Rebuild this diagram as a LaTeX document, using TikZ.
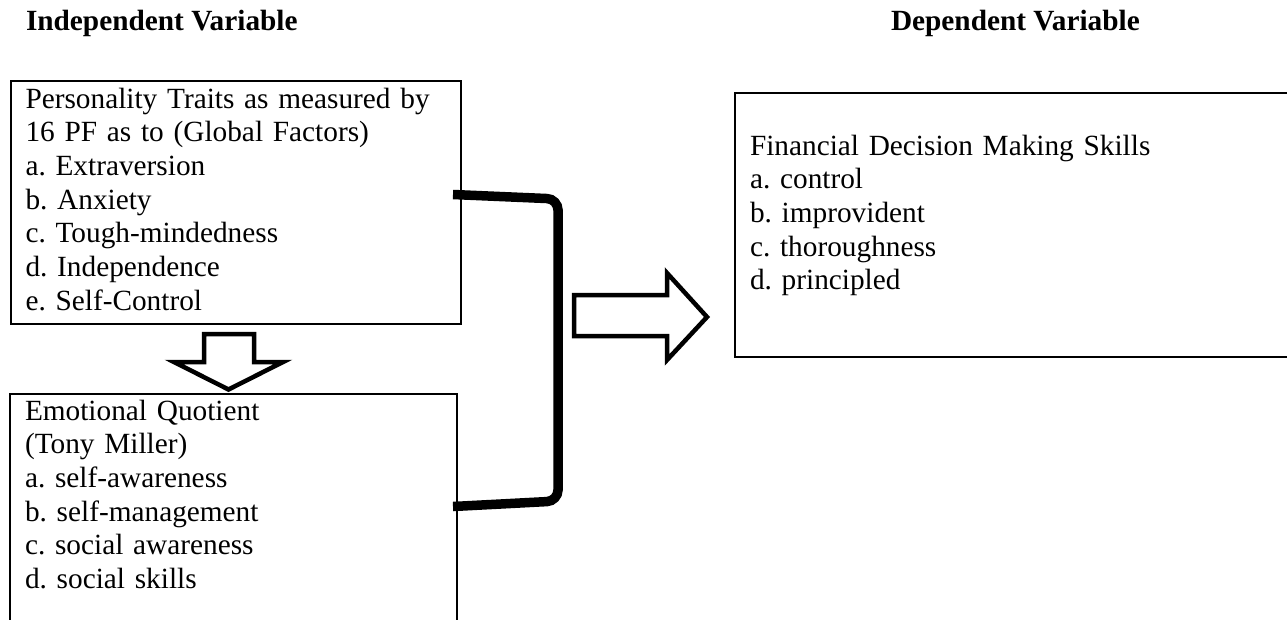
\documentclass[tikz,border=0pt]{standalone}
\usepackage{fontspec}
\setmainfont{Liberation Serif}
\frenchspacing
\begin{document}
\begin{tikzpicture}[x=1pt,y=-1pt,
  body/.style={font=\fontsize{29.3}{33.7}\selectfont\frenchspacing, inner sep=0pt, outer sep=0pt, anchor=base west, text width=#1, align=left},
  ttl/.style={font=\fontsize{29.3}{33.7}\selectfont\bfseries, inner sep=0pt, outer sep=0pt, anchor=base west},
  box/.style={draw=black, line width=2.2pt, inner sep=0pt, outer sep=0pt, anchor=north west},
  blockarrow/.style={draw=black, line width=4.5pt, line join=miter, fill=white},
  brace/.style={line width=9.5pt, rounded corners=11pt, line cap=butt}]
\useasboundingbox (0,0) rectangle (1287,619);
\clip (0,0) rectangle (1287,619);
\fill[white] (0,0) rectangle (1287,619);
% titles
\node[ttl] (iv) at (26,30) {Independent Variable};
\node[ttl] (dv) at (891,30) {Dependent Variable};
% boxes
\node[box, minimum width=450pt, minimum height=243pt] (pf) at (11,81) {};
\node[box, minimum width=447pt, minimum height=280pt] (eq) at (10,394) {};
\node[box, minimum width=600pt, minimum height=264pt] (fd) at (735,93) {};
% texts
\node[body=440pt] (pft) at (25.5,108) {\makebox[420pt][s]{Personality Traits as measured by}\\
16 PF as to (Global Factors)\\
a. Extraversion\\
b. Anxiety\\
c. Tough-mindedness\\
d. Independence\\
e. Self-Control};
\node[body=420pt] (eqt) at (25,420) {Emotional Quotient\\
(Tony Miller)\\
a. self-awareness\\
b. self-management\\
c. social awareness\\
d. social skills};
\node[body=500pt] (fdt) at (750,155) {Financial Decision Making Skills\\
a. control\\
b. improvident\\
c. thoroughness\\
d. principled};
% down block arrow
\draw[blockarrow] (204,334) -- (254,334) -- (254,362) -- (283,362) -- (228.5,389.5) -- (174,362) -- (204,362) -- cycle;
% right block arrow
\draw[blockarrow] (574,295) -- (667,295) -- (667,273) -- (707,317) -- (667,360) -- (667,336) -- (574,336) -- cycle;
% bracket joining both boxes
\coordinate (b1) at (453,194.5);
\coordinate (b2) at (558,199);
\coordinate (b3) at (558,501);
\coordinate (b4) at (453,506.5);
\draw[brace] (b1) -- (b2) -- (b3) -- (b4);
\end{tikzpicture}
\end{document}
